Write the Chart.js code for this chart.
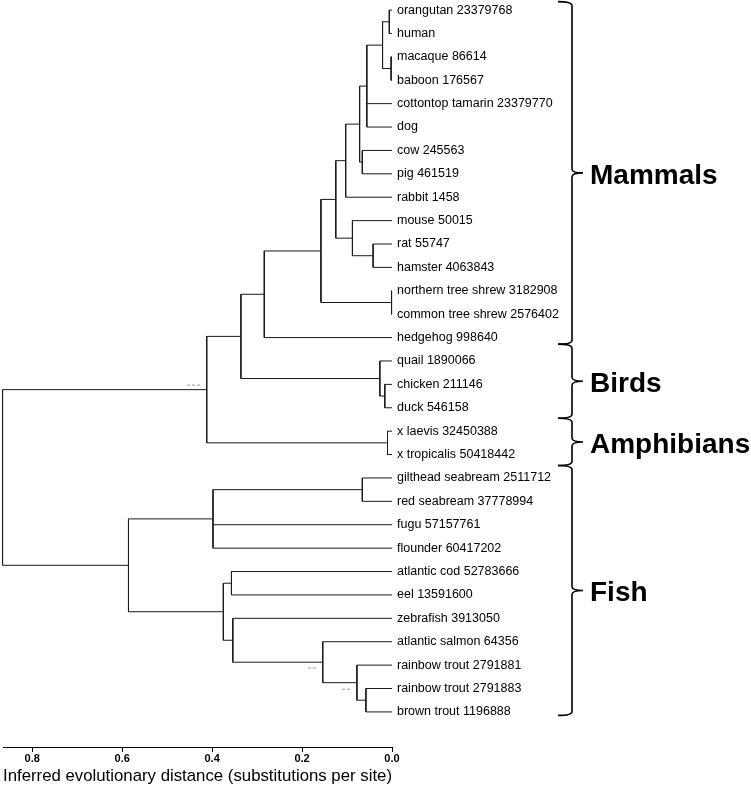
<!DOCTYPE html>
<html>
<head>
<meta charset="utf-8">
<script src="https://cdn.jsdelivr.net/npm/chart.js@4"></script>
<style>
  body { margin: 0; background: #fff; }
  #wrap { width: 751px; height: 789px; }
</style>
</head>
<body>
<div id="wrap"><canvas id="grafico"></canvas></div>
<script>
const FONT = 'Arial, "Liberation Sans", sans-serif';

// folhas da arvore, de cima para baixo
const leafLabels = [
  'orangutan 23379768', 'human', 'macaque 86614', 'baboon 176567',
  'cottontop tamarin 23379770', 'dog', 'cow 245563', 'pig 461519',
  'rabbit 1458', 'mouse 50015', 'rat 55747', 'hamster 4063843',
  'northern tree shrew 3182908', 'common tree shrew 2576402', 'hedgehog 998640',
  'quail 1890066', 'chicken 211146', 'duck 546158',
  'x laevis 32450388', 'x tropicalis 50418442',
  'gilthead seabream 2511712', 'red seabream 37778994', 'fugu 57157761',
  'flounder 60417202', 'atlantic cod 52783666', 'eel 13591600',
  'zebrafish 3913050', 'atlantic salmon 64356', 'rainbow trout 2791881',
  'rainbow trout 2791883', 'brown trout 1196888'
];

// nos internos: id = 31 + posicao; filhos sao ids de folhas ou nos
const nodeChildren = [
  [0, 1], [2, 3], [31, 32], [33, 4, 5], [6, 7], [34, 35], [36, 8],
  [10, 11], [9, 38], [37, 39], [12, 13], [40, 41], [42, 14],
  [16, 17], [15, 44], [43, 45], [18, 19], [46, 47],
  [20, 21], [49, 22, 23], [24, 25], [29, 30], [28, 52], [27, 53],
  [26, 54], [51, 55], [50, 56], [48, 57]
];
const nodeDistance = [
  0.006, 0.002, 0.021, 0.056, 0.066, 0.072, 0.103,
  0.042, 0.088, 0.125, 0.001, 0.158, 0.284,
  0.016, 0.027, 0.336, 0.010, 0.412,
  0.066, 0.398, 0.357, 0.058, 0.078, 0.154,
  0.354, 0.375, 0.586, 0.866
];

// marcas cinzas pequenas (x inicial, x final, posicao na vertical)
const markFrom = [0.456, 0.187, 0.111];
const markTo = [0.427, 0.167, 0.091];
const markRow = [16.03, 28.13, 29.03];

// grupos e chaves
const groupNames = ['Mammals', 'Birds', 'Amphibians', 'Fish'];
const groupTop = [-0.36, 14.28, 17.45, 19.47];
const groupBottom = [14.28, 17.45, 19.47, 30.15];

const distAxisTitle = 'Inferred evolutionary distance (substitutions per site)';

function montarSegmentos() {
  const nLeaf = leafLabels.length;
  const posX = [], posY = [];
  leafLabels.forEach((_, i) => { posX[i] = 0; posY[i] = i; });
  nodeChildren.forEach((ch, k) => {
    const id = nLeaf + k;
    const ys = ch.map(c => posY[c]);
    posX[id] = nodeDistance[k];
    posY[id] = (Math.min(...ys) + Math.max(...ys)) / 2;
  });
  const segs = [];
  nodeChildren.forEach((ch, k) => {
    const id = nLeaf + k;
    const ys = ch.map(c => posY[c]);
    segs.push([{ x: posX[id], y: Math.min(...ys) }, { x: posX[id], y: Math.max(...ys) }]);
    ch.forEach(c => segs.push([{ x: posX[id], y: posY[c] }, { x: posX[c], y: posY[c] }]));
  });
  return segs;
}

const datasets = montarSegmentos().map(s => ({
  data: s, showLine: true, borderColor: '#1a1a1a', borderWidth: 1,
  pointRadius: 0, clip: false
}));
markFrom.forEach((x0, i) => {
  datasets.push({
    data: [{ x: x0, y: markRow[i] }, { x: markTo[i], y: markRow[i] }],
    showLine: true, borderColor: '#9a9a9a', borderWidth: 1, borderDash: [3, 2],
    pointRadius: 0, clip: false
  });
});

const rotulos = {
  id: 'rotulos',
  afterDraw(chart) {
    const { ctx, chartArea, scales } = chart;
    const ys = scales.y;
    ctx.save();
    ctx.fillStyle = '#000';
    ctx.textBaseline = 'middle';
    ctx.font = '12.5px ' + FONT;
    leafLabels.forEach((t, i) => ctx.fillText(t, chartArea.right + 5, ys.getPixelForValue(i)));

    const xl = chartArea.right + 166, xv = xl + 14, xt = xv + 11, r = 4;
    ctx.strokeStyle = '#000';
    ctx.lineWidth = 1.6;
    groupNames.forEach((g, i) => {
      const y1 = ys.getPixelForValue(groupTop[i]);
      const y2 = ys.getPixelForValue(groupBottom[i]);
      const ym = (y1 + y2) / 2;
      ctx.beginPath();
      ctx.moveTo(xl, y1);
      ctx.quadraticCurveTo(xv, y1, xv, y1 + r);
      ctx.lineTo(xv, ym - r);
      ctx.quadraticCurveTo(xv, ym, xt, ym);
      ctx.quadraticCurveTo(xv, ym, xv, ym + r);
      ctx.lineTo(xv, y2 - r);
      ctx.quadraticCurveTo(xv, y2, xl, y2);
      ctx.stroke();
      ctx.font = 'bold 28px ' + FONT;
      ctx.fillText(g, xt + 7, ym + 3);
    });
    ctx.restore();
  }
};

new Chart(document.getElementById('grafico'), {
  type: 'scatter',
  data: { datasets },
  options: {
    responsive: true,
    maintainAspectRatio: false,
    animation: false,
    layout: { padding: { left: 3, right: 359, top: 0, bottom: 4.5 } },
    plugins: { legend: { display: false }, tooltip: { enabled: false } },
    scales: {
      x: {
        type: 'linear', reverse: true, min: 0, max: 0.865, position: 'bottom',
        grid: { display: true, drawOnChartArea: false, drawTicks: true, tickLength: 5, color: '#000' },
        border: { display: true, color: '#000', width: 1 },
        ticks: {
          stepSize: 0.2, includeBounds: false, padding: 0, maxRotation: 0, color: '#000',
          font: { size: 11, weight: 'bold', family: FONT },
          callback: v => v.toFixed(1)
        },
        title: {
          display: true, text: distAxisTitle, color: '#000',
          font: { size: 17, family: FONT, lineHeight: 1 },
          padding: { top: 2.3, bottom: 0 }
        }
      },
      y: { type: 'linear', reverse: true, min: -0.43, max: 31.5, display: false }
    }
  },
  plugins: [rotulos]
});
</script>
</body>
</html>
